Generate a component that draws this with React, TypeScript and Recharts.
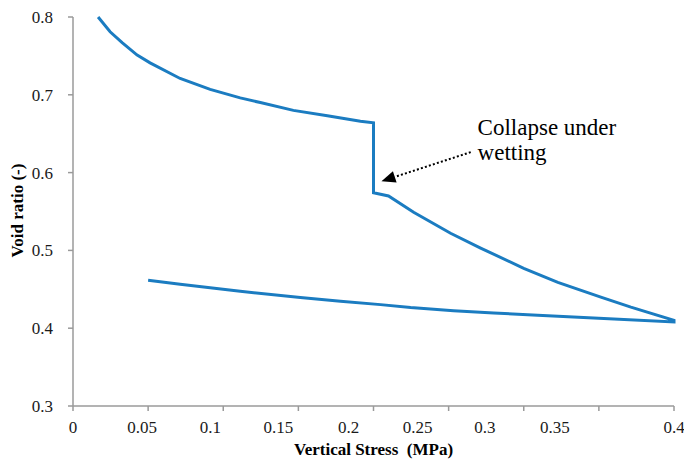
import React from "react";
import { LineChart, Line, XAxis, YAxis, ReferenceLine, ReferenceDot, Label } from "recharts";

// ---- data ----
const stress = [
  0.0167, 0.0247, 0.0327, 0.0427, 0.0513, 0.0713, 0.0913, 0.1113, 0.1247, 0.1467, 0.1693, 0.1913, 0.2,
  0.2, 0.21, 0.2267, 0.2513, 0.2713, 0.3, 0.3227, 0.3513, 0.3713, 0.4,
  0.4, 0.3533, 0.3093, 0.28, 0.2533, 0.2247, 0.2047, 0.178, 0.1513, 0.1113, 0.0713, 0.05,
];
const voidRatio = [
  0.8, 0.781, 0.767, 0.751, 0.741, 0.721, 0.707, 0.696, 0.69, 0.68, 0.673, 0.666, 0.664,
  0.574, 0.57, 0.549, 0.522, 0.503, 0.477, 0.459, 0.44, 0.427, 0.41,
  0.408, 0.4126, 0.4167, 0.4195, 0.4224, 0.4265, 0.4303, 0.4345, 0.4396, 0.4474, 0.4564, 0.4615,
];
const xTicks = [0, 0.05, 0.1, 0.15, 0.2, 0.25, 0.3, 0.35, 0.4];
const yTicks = [0.3, 0.4, 0.5, 0.6, 0.7, 0.8];
const arrowFrom = { x: 0.2647, y: 0.6263 };
const arrowTo = { x: 0.2053, y: 0.5889 };
const noteAt = { x: 0.2693, y: 0.6481 };
const noteLines = ["Collapse under", "wetting"];
const xTitle = "Vertical Stress\u00A0 (MPa)";
const yTitle = "Void ratio (-)";

const data = stress.map((s, i) => ({ stress: s, voidRatio: voidRatio[i] }));

// ---- styling ----
const FONT = '"Liberation Serif", "Times New Roman", serif';
const AXIS = "#9a9a9a";
const LINE = "#1b7cc1";
const xLabelShift = [0, -6, -13, -20, -25, -31, -39, -44, 0];

const fmtX = (v: number) => String(Number(v.toFixed(2)));
const fmtY = (v: number) => v.toFixed(1);

const XTick = (props: any) => {
  const { x, y, payload, index } = props;
  return (
    <text
      x={x + (xLabelShift[index] ?? 0)}
      y={y}
      dy="0.71em"
      textAnchor="middle"
      style={{ fontFamily: FONT, fontSize: 17 }}
      fill="#1a1a1a"
    >
      {fmtX(payload.value)}
    </text>
  );
};

const YTick = (props: any) => {
  const { x, y, payload } = props;
  return (
    <text
      x={x}
      y={y}
      dy="0.355em"
      textAnchor="end"
      style={{ fontFamily: FONT, fontSize: 17 }}
      fill="#1a1a1a"
    >
      {fmtY(payload.value)}
    </text>
  );
};

const ArrowShape = (props: any) => {
  const { x1, y1, x2, y2 } = props;
  const dx = x2 - x1;
  const dy = y2 - y1;
  const len = Math.sqrt(dx * dx + dy * dy) || 1;
  const ux = dx / len;
  const uy = dy / len;
  const headLen = 14;
  const headHalf = 6;
  const bx = x2 - ux * headLen;
  const by = y2 - uy * headLen;
  const px = -uy;
  const py = ux;
  return (
    <g>
      <line x1={x1} y1={y1} x2={bx} y2={by} stroke="#000" strokeWidth={2} strokeDasharray="2 2.2" />
      <polygon
        points={`${x2},${y2} ${bx + px * headHalf},${by + py * headHalf} ${bx - px * headHalf},${by - py * headHalf}`}
        fill="#000"
      />
    </g>
  );
};

const NoteShape = (props: any) => {
  const { cx, cy } = props;
  return (
    <text x={cx} y={cy} style={{ fontFamily: FONT, fontSize: 23 }} fill="#000">
      <tspan x={cx}>{noteLines[0]}</tspan>
      <tspan x={cx} dy={25}>{noteLines[1]}</tspan>
    </text>
  );
};

const YTitle = (props: any) => {
  const vb = props.viewBox || { x: 13, y: 17, width: 60, height: 389 };
  const x = vb.x + 10;
  const y = vb.y + vb.height / 2 - 1;
  return (
    <text
      x={x}
      y={y}
      transform={`rotate(-90, ${x}, ${y})`}
      textAnchor="middle"
      style={{ fontFamily: FONT, fontSize: 17, fontWeight: "bold" }}
      fill="#000"
    >
      {yTitle}
    </text>
  );
};

const XTitle = (props: any) => {
  const vb = props.viewBox || { x: 73, y: 406, width: 601, height: 30 };
  const x = vb.x + vb.width / 2;
  const y = vb.y + vb.height + 19;
  return (
    <text
      x={x}
      y={y}
      textAnchor="middle"
      style={{ fontFamily: FONT, fontSize: 17, fontWeight: "bold", whiteSpace: "pre" }}
      fill="#000"
    >
      {xTitle}
    </text>
  );
};

export default function App() {
  return (
    <div style={{ position: "absolute", left: 0, top: 0, background: "#fff", fontFamily: FONT }}>
      <LineChart
        width={684}
        height={463}
        data={data}
        margin={{ top: 17, right: 10, bottom: 27, left: 13 }}
      >
        <XAxis
          dataKey="stress"
          type="number"
          domain={[0, 0.4]}
          ticks={xTicks}
          interval={0}
          height={30}
          axisLine={{ stroke: AXIS, strokeWidth: 1.5 }}
          tickLine={{ stroke: AXIS, strokeWidth: 1.5 }}
          tickSize={5}
          tickMargin={10}
          tick={<XTick />}
        >
          <Label content={<XTitle />} />
        </XAxis>
        <YAxis
          type="number"
          domain={[0.3, 0.8]}
          ticks={yTicks}
          interval={0}
          width={60}
          axisLine={{ stroke: AXIS, strokeWidth: 1.5 }}
          tickLine={{ stroke: AXIS, strokeWidth: 1.5 }}
          tickSize={5}
          tickMargin={15}
          tick={<YTick />}
        >
          <Label content={<YTitle />} />
        </YAxis>
        <Line
          type="linear"
          dataKey="voidRatio"
          stroke={LINE}
          strokeWidth={3}
          dot={false}
          activeDot={false}
          isAnimationActive={false}
        />
        <ReferenceLine segment={[arrowFrom, arrowTo]} shape={<ArrowShape />} ifOverflow="visible" />
        <ReferenceDot x={noteAt.x} y={noteAt.y} r={0} shape={<NoteShape />} ifOverflow="visible" />
      </LineChart>
    </div>
  );
}
